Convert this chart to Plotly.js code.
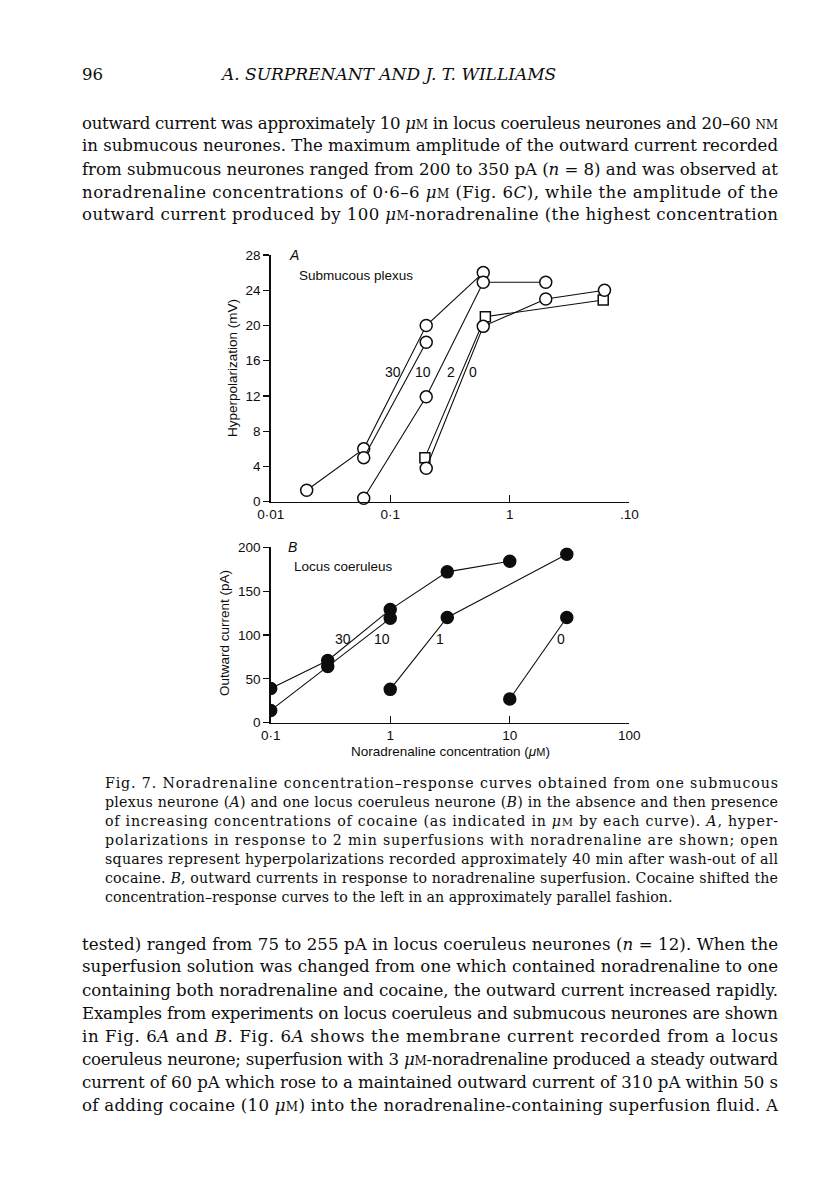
<!DOCTYPE html>
<html>
<head>
<meta charset="utf-8">
<script src="https://cdn.plot.ly/plotly-3.0.1.min.js"></script>
<style>
html,body{margin:0;padding:0;background:#fff;}
#plot{width:816px;height:1181px;}
</style>
</head>
<body>
<div id="plot"></div>
<script>
// ---------- DATA ----------
// Panel A: submucous plexus, hyperpolarization (mV) vs noradrenaline (µM)
const A_coc30_x = [0.02, 0.06, 0.2, 0.6];
const A_coc30_y = [1.3, 6, 20, 26];
const A_coc10_x = [0.06, 0.2];
const A_coc10_y = [5, 18.1];
const A_coc2_x  = [0.06, 0.2, 0.6, 2];
const A_coc2_y  = [0.4, 11.9, 24.9, 24.9];
const A_coc0_x  = [0.2, 0.6, 2, 6.2];
const A_coc0_y  = [3.8, 19.9, 23, 24];
const A_wash_x  = [0.195, 0.625, 6.05];
const A_wash_y  = [5, 21, 22.9];
const A_xticks = [0.01, 0.1, 1, 10];
const A_xticktext = ['0·01', '0·1', '1', '.10'];
const A_yticks = [0, 4, 8, 12, 16, 20, 24, 28];

// Panel B: locus coeruleus, outward current (pA) vs noradrenaline (µM)
const B_coc30_x = [0.1, 0.3, 1, 3, 10];
const B_coc30_y = [39, 71, 129, 172, 184];
const B_coc10_x = [0.1, 0.3, 1];
const B_coc10_y = [14, 64, 119];
const B_coc1_x  = [1, 3, 30];
const B_coc1_y  = [38, 120, 192];
const B_coc0_x  = [10, 30];
const B_coc0_y  = [27, 120];
const B_xticks = [0.1, 1, 10, 100];
const B_xticktext = ['0·1', '1', '10', '100'];
const B_yticks = [0, 50, 100, 150, 200];

// Text
const header_page = '96';
const header_title = 'A. SURPRENANT AND J. T. WILLIAMS';
const mu = '<i>μ</i><span style="font-size:12px">M</span>';
const muC = '<i>μ</i><span style="font-size:11px">M</span>';
const para1 = [
  'outward current was approximately 10 ' + mu + ' in locus coeruleus neurones and 20–60 <span style="font-size:12px">NM</span>',
  'in submucous neurones. The maximum amplitude of the outward current recorded',
  'from submucous neurones ranged from 200 to 350 pA (<i>n</i> = 8) and was observed at',
  'noradrenaline concentrations of 0·6–6 ' + mu + ' (Fig. 6<i>C</i>), while the amplitude of the',
  'outward current produced by 100 ' + mu + '-noradrenaline (the highest concentration'
];
const caption = [
  'Fig. 7. Noradrenaline concentration–response curves obtained from one submucous',
  'plexus neurone (<i>A</i>) and one locus coeruleus neurone (<i>B</i>) in the absence and then presence',
  'of increasing concentrations of cocaine (as indicated in ' + muC + ' by each curve). <i>A</i>, hyper-',
  'polarizations in response to 2 min superfusions with noradrenaline are shown; open',
  'squares represent hyperpolarizations recorded approximately 40 min after wash-out of all',
  'cocaine. <i>B</i>, outward currents in response to noradrenaline superfusion. Cocaine shifted the',
  'concentration–response curves to the left in an approximately parallel fashion.'
];
const para2 = [
  'tested) ranged from 75 to 255 pA in locus coeruleus neurones (<i>n</i> = 12). When the',
  'superfusion solution was changed from one which contained noradrenaline to one',
  'containing both noradrenaline and cocaine, the outward current increased rapidly.',
  'Examples from experiments on locus coeruleus and submucous neurones are shown',
  'in Fig. 6<i>A</i> and <i>B</i>. Fig. 6<i>A</i> shows the membrane current recorded from a locus',
  'coeruleus neurone; superfusion with 3 ' + mu + '-noradrenaline produced a steady outward',
  'current of 60 pA which rose to a maintained outward current of 310 pA within 50 s',
  'of adding cocaine (10 ' + mu + ') into the noradrenaline-containing superfusion fluid. A'
];

// ---------- LAYOUT ----------
const W = 816, H = 1181;
const px = x => x / W;
const py = y => 1 - y / H;
const INK = '#0d0d0d';
const SANS = 'Liberation Sans, Arial, sans-serif';
const SERIF = 'DejaVu Serif, serif';

function trace(x, y, xa, ya, symbol, fill, size, clip) {
  return {
    x: x, y: y, xaxis: xa, yaxis: ya, type: 'scatter', mode: 'lines+markers',
    line: {color: INK, width: 1.1},
    marker: {symbol: symbol, size: size, color: fill, line: {color: INK, width: 1.5}},
    cliponaxis: clip, hoverinfo: 'skip'
  };
}

const data = [
  trace(A_coc30_x, A_coc30_y, 'x', 'y', 'circle', '#fff', 12, false),
  trace(A_coc10_x, A_coc10_y, 'x', 'y', 'circle', '#fff', 12, false),
  trace(A_coc2_x, A_coc2_y, 'x', 'y', 'circle', '#fff', 12, false),
  trace(A_wash_x, A_wash_y, 'x', 'y', 'square', '#fff', 10, false),
  trace(A_coc0_x, A_coc0_y, 'x', 'y', 'circle', '#fff', 12, false),
  trace(B_coc30_x, B_coc30_y, 'x2', 'y2', 'circle', INK, 12, true),
  trace(B_coc10_x, B_coc10_y, 'x2', 'y2', 'circle', INK, 12, true),
  trace(B_coc1_x, B_coc1_y, 'x2', 'y2', 'circle', INK, 12, true),
  trace(B_coc0_x, B_coc0_y, 'x2', 'y2', 'circle', INK, 12, true)
];

function xaxisCfg(dom, range, tv, tt, anchor) {
  return {
    domain: dom, type: 'log', range: range, anchor: anchor,
    showline: true, linecolor: INK, linewidth: 1.4,
    ticks: 'inside', ticklen: 7, tickwidth: 1.3, tickcolor: INK,
    tickvals: tv, ticktext: tt, showgrid: false, zeroline: false,
    tickfont: {family: SANS, size: 13.5, color: INK}, fixedrange: true
  };
}
function yaxisCfg(dom, range, tv, anchor) {
  return {
    domain: dom, range: range, anchor: anchor,
    showline: true, linecolor: INK, linewidth: 1.4,
    ticks: 'outside', ticklen: 6, tickwidth: 1.3, tickcolor: INK,
    tickvals: tv, showgrid: false, zeroline: false,
    tickfont: {family: SANS, size: 13.5, color: INK}, fixedrange: true
  };
}

const xdom = [px(270.7), px(629.3)];
const layout = {
  width: W, height: H, margin: {l: 0, r: 0, t: 0, b: 0},
  paper_bgcolor: '#fff', plot_bgcolor: 'rgba(0,0,0,0)', showlegend: false,
  xaxis: xaxisCfg(xdom, [-2, 1], A_xticks, A_xticktext, 'y'),
  yaxis: yaxisCfg([py(501.7), py(255)], [0, 28], A_yticks, 'x'),
  xaxis2: xaxisCfg(xdom, [-1, 2], B_xticks, B_xticktext, 'y2'),
  yaxis2: yaxisCfg([py(722.7), py(547.3)], [0, 200], B_yticks, 'x2'),
  annotations: []
};

const ann = layout.annotations;
const justify = {};
function paperText(text, x, y, opts) {
  const a = Object.assign({
    text: text, x: px(x), y: py(y), xref: 'paper', yref: 'paper',
    xanchor: 'left', yanchor: 'middle', showarrow: false, align: 'left',
    font: {family: SERIF, size: 16.6, color: INK}
  }, opts || {});
  ann.push(a);
  return ann.length - 1;
}

// header
paperText(header_page, 80, 74, {font: {family: SERIF, size: 16.6, color: INK}});
paperText('<i>' + header_title + '</i>', 388, 74, {xanchor: 'center', align: 'center', font: {family: SERIF, size: 17, color: INK}});

// body paragraph 1
para1.forEach((t, i) => { const k = paperText(t, 80, 123 + i * 23); justify[k] = 696; });
// caption
caption.forEach((t, i) => {
  const k = paperText(t, 103, 783 + i * 19, {font: {family: SERIF, size: 14.2, color: INK}});
  if (i < caption.length - 1) justify[k] = 673;
});
// body paragraph 2
para2.forEach((t, i) => { const k = paperText(t, 80, 944 + i * 23); justify[k] = 696; });

// chart texts
const chartFont = {family: SANS, size: 13.5, color: INK};
paperText('<i>A</i>', 287, 255, {font: {family: SANS, size: 14, color: INK}});
paperText('<i>B</i>', 286, 547, {font: {family: SANS, size: 14, color: INK}});
paperText('Submucous plexus', 297, 275, {font: chartFont});
paperText('Locus coeruleus', 292, 566, {font: chartFont});
paperText('Hyperpolarization (mV)', 232, 368, {xanchor: 'center', textangle: -90, font: chartFont});
paperText('Outward current (pA)', 224, 633, {xanchor: 'center', textangle: -90, font: chartFont});
paperText('Noradrenaline concentration (<i>μ</i><span style="font-size:11px">M</span>)', 450, 751, {xanchor: 'center', font: chartFont});

// curve labels (cocaine concentrations, µM)
const A_labels = ['30', '10', '2', '0'];
const A_labelPos = [[393, 372], [423, 372], [451, 372], [473, 372]];
A_labels.forEach((t, i) => paperText(t, A_labelPos[i][0], A_labelPos[i][1], {xanchor: 'center', font: {family: SANS, size: 14, color: INK}}));
const B_labels = ['30', '10', '1', '0'];
const B_labelPos = [[343, 639], [382, 639], [440, 639], [561, 639]];
B_labels.forEach((t, i) => paperText(t, B_labelPos[i][0], B_labelPos[i][1], {xanchor: 'center', font: {family: SANS, size: 14, color: INK}}));

Plotly.newPlot('plot', data, layout, {staticPlot: true, displayModeBar: false}).then(() => {
  document.querySelectorAll('g.annotation').forEach(g => {
    const k = +g.getAttribute('data-index');
    if (justify[k]) {
      const t = g.querySelector('text.annotation-text');
      if (t) { t.setAttribute('textLength', justify[k]); t.setAttribute('lengthAdjust', 'spacing'); }
    }
  });
});
</script>
</body>
</html>
